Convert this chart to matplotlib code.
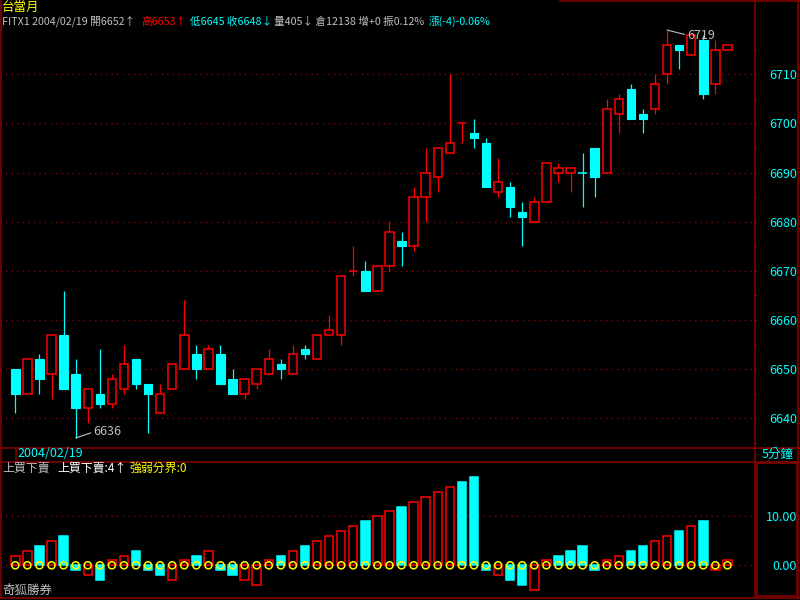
import matplotlib
matplotlib.use('Agg')
import matplotlib.pyplot as plt
from matplotlib.patches import Rectangle

plt.rcParams['font.family'] = ['Noto Sans CJK TC', 'DejaVu Sans']

# 台指期 FITX1 2004/02/19 5分鐘K線
opens  = [6650, 6645, 6652, 6649, 6657, 6649, 6642, 6645, 6643, 6646,
          6652, 6647, 6641, 6646, 6650, 6653, 6650, 6653, 6648, 6645,
          6647, 6649, 6651, 6649, 6654, 6652, 6657, 6657, 6670, 6670,
          6666, 6671, 6676, 6675, 6685, 6689, 6694, 6700, 6698, 6696,
          6686, 6687, 6682, 6680, 6684, 6690, 6690, 6690, 6695, 6690,
          6702, 6707, 6702, 6703, 6710, 6716, 6714, 6717, 6708, 6715]
highs  = [6650, 6652, 6653, 6657, 6666, 6652, 6646, 6654, 6649, 6655,
          6652, 6647, 6647, 6651, 6664, 6655, 6655, 6655, 6650, 6648,
          6650, 6654, 6652, 6655, 6655, 6657, 6661, 6669, 6675, 6672,
          6671, 6680, 6678, 6687, 6695, 6695, 6710, 6700, 6701, 6697,
          6693, 6688, 6684, 6685, 6692, 6692, 6691, 6694, 6695, 6705,
          6706, 6708, 6703, 6710, 6719, 6716, 6718, 6718, 6717, 6716]
lows   = [6641, 6645, 6645, 6644, 6646, 6636, 6639, 6642, 6642, 6645,
          6646, 6637, 6641, 6646, 6650, 6648, 6650, 6647, 6645, 6644,
          6646, 6649, 6648, 6649, 6652, 6652, 6657, 6655, 6669, 6666,
          6666, 6670, 6671, 6674, 6680, 6686, 6694, 6696, 6695, 6687,
          6685, 6681, 6675, 6680, 6684, 6688, 6686, 6683, 6685, 6690,
          6698, 6701, 6698, 6702, 6708, 6711, 6714, 6705, 6706, 6715]
closes = [6645, 6652, 6648, 6657, 6646, 6642, 6646, 6643, 6648, 6651,
          6647, 6645, 6645, 6651, 6657, 6650, 6654, 6647, 6645, 6648,
          6650, 6652, 6650, 6653, 6653, 6657, 6658, 6669, 6670, 6666,
          6671, 6678, 6675, 6685, 6690, 6695, 6696, 6700, 6697, 6687,
          6688, 6683, 6681, 6684, 6692, 6691, 6691, 6690, 6689, 6703,
          6705, 6701, 6701, 6708, 6716, 6715, 6718, 6706, 6715, 6716]

# 上買下賣 指標
ind_vals = [2, 3, 4, 5, 6, -1, -2, -3, 1, 2, 3, -1, -2, -3, 1, 2, 3, -1, -2, -3,
            -4, 1, 2, 3, 4, 5, 6, 7, 8, 9, 10, 11, 12, 13, 14, 15, 16, 17, 18, -1,
            -2, -3, -4, -5, 1, 2, 3, 4, -1, 1, 2, 3, 4, 5, 6, 7, 8, 9, -1, 1]
ind_up = 'rrcrccrcrrcccrrcrccrrrcrcrrrrcrrcrrrrcccrccrrccccrrccrrcrcrr'

price_ticks = [6640, 6650, 6660, 6670, 6680, 6690, 6700, 6710]

RED = '#FF0000'
CYAN = '#00FFFF'
DARK = '#800000'
GREY = '#C0C0C0'
YEL = '#FFFF00'

fig = plt.figure(figsize=(8, 6), dpi=100, facecolor='black')

def box(top, bottom):
    return [0, 1 - bottom / 600, 754 / 800, (bottom - top) / 600]

xlim = (-1.268, 61.2)

# ---- K線 ----
ax = fig.add_axes(box(28, 446), facecolor='black')
ax.set_xlim(*xlim)
ax.set_ylim(6634.36, 6719.42)
for p in price_ticks:
    ax.axhline(p, color=DARK, lw=1, ls=(0, (1, 3)), zorder=0)

w = 0.7
for i in range(len(opens)):
    o, h, l, c = opens[i], highs[i], lows[i], closes[i]
    if c > o:
        col = RED
    elif c < o:
        col = CYAN
    else:
        col = RED if i == 0 or c >= closes[i - 1] else CYAN
    ax.vlines(i, l, h, color=col, lw=0.9, zorder=1)
    if c == o:
        ax.hlines(c, i - w / 2, i + w / 2, color=col, lw=1.1, zorder=2)
    elif col == RED:
        ax.add_patch(Rectangle((i - w / 2, o), w, c - o, facecolor='black',
                               edgecolor=RED, lw=1.1, zorder=2))
    else:
        ax.add_patch(Rectangle((i - w / 2, c), w, o - c, facecolor=CYAN,
                               edgecolor=CYAN, lw=0.8, zorder=2))

ih = highs.index(max(highs))
il = lows.index(min(lows))
ax.annotate(str(max(highs)), (ih, max(highs)), xytext=(20, -5), textcoords='offset pixels',
            color=GREY, fontsize=9, va='center', ha='left', zorder=5,
            arrowprops=dict(arrowstyle='-', color=GREY, lw=0.8, relpos=(0, 0.5),
                            shrinkA=0, shrinkB=0))
ax.annotate(str(min(lows)), (il, min(lows)), xytext=(18, 6), textcoords='offset pixels',
            color=GREY, fontsize=9, va='center', ha='left', zorder=5,
            arrowprops=dict(arrowstyle='-', color=GREY, lw=0.8, relpos=(0, 0.5),
                            shrinkA=0, shrinkB=0))

ax.yaxis.tick_right()
ax.set_yticks(price_ticks, labels=[str(p) for p in price_ticks], ha='right')
ax.set_yticks([p + 5 for p in price_ticks[:-1]] + [6635, 6715], minor=True)
ax.tick_params(axis='y', which='both', direction='out', length=2.5, width=0.8,
               color=DARK, labelcolor=CYAN, labelsize=9, pad=28.5)
ax.set_xticks([])
for s in ax.spines.values():
    s.set_visible(False)

# ---- 指標 ----
ax2 = fig.add_axes(box(461, 598), facecolor='black')
ax2.set_xlim(*xlim)
ax2.set_ylim(-6.67, 21.29)
for v in [0, 10]:
    ax2.axhline(v, color=DARK, lw=1, ls=(0, (1, 3)), zorder=0)
xs = list(range(len(ind_vals)))
faces = [CYAN if u == 'c' else 'black' for u in ind_up]
edges = [CYAN if u == 'c' else RED for u in ind_up]
ax2.bar(xs, ind_vals, width=w, color=faces, edgecolor=edges, lw=1.1, zorder=2)
ax2.scatter(xs, [0] * len(xs), s=26, facecolors='none', edgecolors=YEL,
            linewidths=1.1, zorder=3)
ax2.yaxis.tick_right()
ax2.set_yticks([0, 10], labels=['0.00', '10.00'], ha='right')
ax2.set_yticks([2.5, 5, 7.5], minor=True)
ax2.tick_params(axis='y', which='both', direction='out', length=2.5, width=0.8,
                color=DARK, labelcolor=CYAN, labelsize=9, pad=28.5)
ax2.set_xticks([])
for s in ax2.spines.values():
    s.set_visible(False)

# ---- 外框與文字 ----
ov = fig.add_axes([0, 0, 1, 1], facecolor='none')
ov.set_xlim(0, 800)
ov.set_ylim(600, 0)
ov.axis('off')
lk = dict(color=DARK, lw=1.2)
ov.plot([0.8, 0.8], [0, 598], **lk)
ov.plot([797.5, 797.5], [0, 598], **lk)
ov.plot([0, 800], [597.5, 597.5], **lk)
ov.plot([560, 800], [1, 1], **lk)
ov.plot([754.5, 754.5], [0, 598], **lk)
ov.plot([0, 800], [447.5, 447.5], **lk)
ov.plot([0, 800], [461.5, 461.5], **lk)
ov.plot([15.5, 15.5], [447.5, 461.5], **lk)
ov.add_patch(Rectangle((756.5, 463), 40, 132.5, fill=False, **lk))

fs = 7.7
ov.text(2, 7.5, '台當月', color=YEL, fontsize=9, va='center')
header = [(2, 'FITX1 2004/02/19 開6652↑', GREY),
          (141, '高6653↑', RED),
          (190, '低6645 收6648↓', CYAN),
          (274, '量405↓ 倉12138 增+0 振0.12%', GREY),
          (429, '漲(-4)-0.06%', CYAN)]
for x, t, c in header:
    ov.text(x, 21.5, t, color=c, fontsize=fs, va='center')

ov.text(17, 453.5, '2004/02/19', color=CYAN, fontsize=9, va='center')
ov.text(762, 454.5, '5分鐘', color=CYAN, fontsize=9, va='center')

ov.text(2, 468, '上買下賣', color=GREY, fontsize=8.6, va='center')
ov.text(57, 468, '上買下賣:4↑', color='white', fontsize=8.6, va='center')
ov.text(129, 468, '強弱分界:0', color=YEL, fontsize=8.6, va='center')
ov.text(2, 590, '奇狐勝券', color=GREY, fontsize=9, va='center')

fig.savefig('out.png', dpi=100, facecolor='black')
